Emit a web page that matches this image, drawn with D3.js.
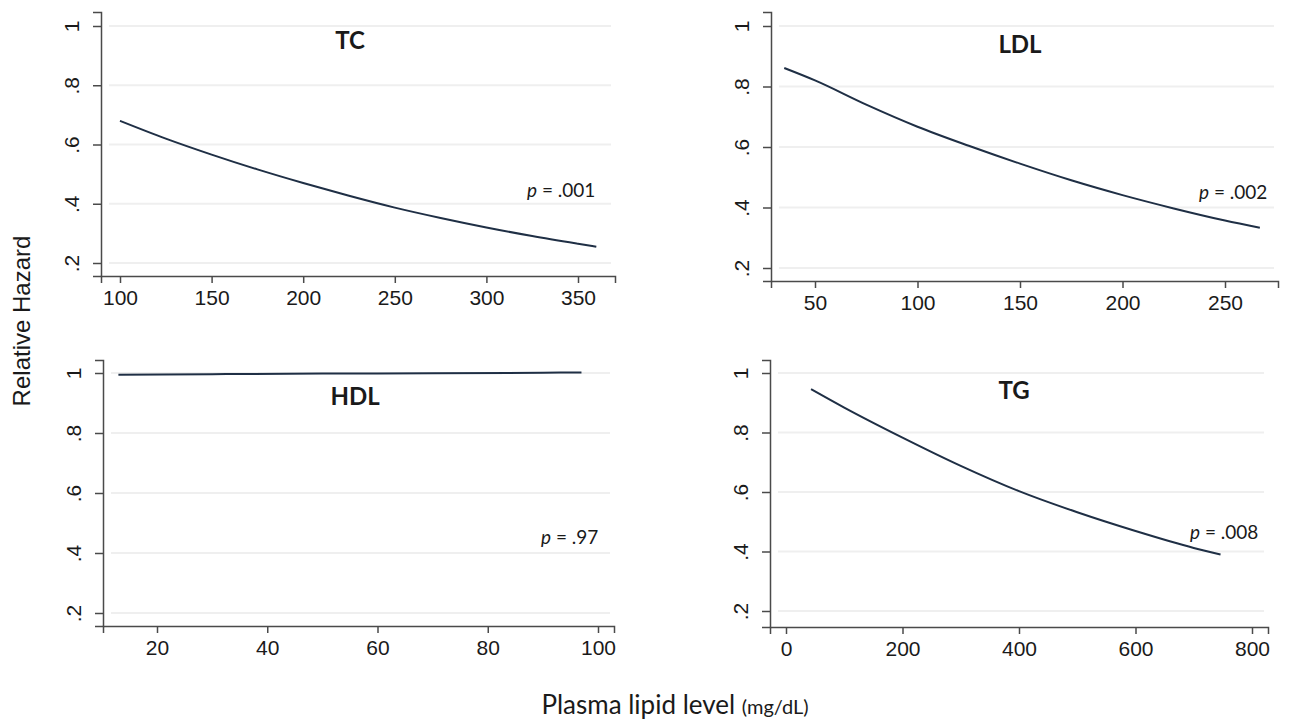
<!DOCTYPE html>
<html>
<head>
<meta charset="utf-8">
<script src="https://cdn.jsdelivr.net/npm/d3@7"></script>
<style>
  body { margin: 0; background: #fff; }
  svg text { fill: #1a1a1a; }
</style>
</head>
<body>
<div class="chart"></div>
<script>
// values (lipid level, relative hazard)
let tcX = [100, 125, 150, 175, 200, 225, 250, 275, 300, 325, 350, 360]
let tcY = [0.68, 0.62, 0.566, 0.516, 0.47, 0.427, 0.387, 0.352, 0.32, 0.291, 0.265, 0.255]
let ldlX = [35, 50, 75, 100, 125, 150, 175, 200, 225, 250, 267]
let ldlY = [0.861, 0.82, 0.74, 0.667, 0.604, 0.545, 0.49, 0.441, 0.397, 0.357, 0.333]
let hdlX = [13, 30, 50, 70, 90, 97]
let hdlY = [0.994, 0.996, 0.998, 0.999, 1.001, 1.002]
let tgX = [43, 100, 200, 300, 400, 500, 600, 700, 746]
let tgY = [0.946, 0.884, 0.783, 0.688, 0.603, 0.532, 0.469, 0.412, 0.39]

let names = ["TC", "LDL", "HDL", "TG"]
let pValues = ["= .001", "= .002", "= .97", "= .008"]
let xTicks = [[100, 150, 200, 250, 300, 350], [50, 100, 150, 200, 250], [20, 40, 60, 80, 100], [0, 200, 400, 600, 800]]
let yTicks = [0.2, 0.4, 0.6, 0.8, 1]
let yTickLabels = [".2", ".4", ".6", ".8", "1"]

let w = 1292
let h = 722

let svg = d3.select(".chart")
  .append("svg")
  .attr("width", w)
  .attr("height", h)

// panel frames: two x anchors (value -> px), y anchors for .2 and 1, axis extents
let panels = [
  { xs: tcX, ys: tcY, xa: [100, 350], xp: [120, 578], y02: 263, y1: 26, left: 101, right: 615, top: 12, bottom: 276,
    title: [350, 49], p: [527, 197] },
  { xs: ldlX, ys: ldlY, xa: [50, 250], xp: [815, 1225], y02: 268, y1: 26, left: 771, right: 1278, top: 12, bottom: 281,
    title: [1020, 53], p: [1199, 199] },
  { xs: hdlX, ys: hdlY, xa: [20, 100], xp: [157, 598], y02: 613, y1: 373, left: 103, right: 614, top: 360, bottom: 626,
    title: [355, 405], p: [541, 544] },
  { xs: tgX, ys: tgY, xa: [0, 800], xp: [786, 1252], y02: 611, y1: 373, left: 770, right: 1268, top: 360, bottom: 627,
    title: [1014, 399], p: [1190, 539] }
]

let tickFont = "Liberation Sans, Arial, sans-serif"

panels.forEach(function(p, i) {
  let x0 = d3.scaleLinear().domain(p.xa).range(p.xp)
  let x = x0.copy().domain([x0.invert(p.left), x0.invert(p.right)]).range([p.left, p.right])
  let y0 = d3.scaleLinear().domain([0.2, 1]).range([p.y02, p.y1])
  let y = y0.copy().domain([y0.invert(p.bottom), y0.invert(p.top)]).range([p.bottom, p.top])

  let g = svg.append("g")

  // faint horizontal grid
  g.selectAll("line.grid")
    .data(yTicks)
    .enter()
    .append("line")
    .attr("x1", p.left + 8)
    .attr("x2", p.right - 4)
    .attr("y1", d => y(d))
    .attr("y2", d => y(d))
    .attr("stroke", "#efefef")
    .attr("stroke-width", 2)

  // x axis
  let xAxis = g.append("g")
    .attr("transform", "translate(0," + p.bottom + ")")
    .call(d3.axisBottom(x).tickValues(xTicks[i]).tickSizeOuter(0).tickSize(7).tickPadding(7))
  xAxis.selectAll("text")
    .attr("font-family", tickFont)
    .attr("font-size", 21)
    .attr("fill", "#1a1a1a")

  // y axis, labels rotated like Stata
  let yAxis = g.append("g")
    .attr("transform", "translate(" + p.left + ",0)")
    .call(d3.axisLeft(y).tickValues(yTicks).tickFormat((d, k) => yTickLabels[k]).tickSizeOuter(0).tickSize(8))
  yAxis.selectAll(".tick text")
    .attr("font-family", tickFont)
    .attr("font-size", 21)
    .attr("fill", "#1a1a1a")
    .attr("text-anchor", "middle")
    .attr("x", 0)
    .attr("dy", 0)
    .attr("transform", "translate(-22,0) rotate(-90)")

  svg.selectAll(".domain, .tick line").attr("stroke", "#4a4a4a").attr("stroke-width", 1.5)

  // fitted curve
  let line = d3.line()
    .x(d => x(d[0]))
    .y(d => y(d[1]))
    .curve(d3.curveMonotoneX)
  g.append("path")
    .datum(p.xs.map((v, k) => [v, p.ys[k]]))
    .attr("d", line)
    .attr("fill", "none")
    .attr("stroke", "#1f2f45")
    .attr("stroke-width", 2)

  // panel title
  g.append("text")
    .attr("x", p.title[0])
    .attr("y", p.title[1])
    .attr("text-anchor", "middle")
    .attr("font-family", "Lato, Open Sans, sans-serif")
    .attr("font-weight", "bold")
    .attr("font-size", 24)
    .text(names[i])

  // p value
  let pt = g.append("text")
    .attr("x", p.p[0])
    .attr("y", p.p[1])
    .attr("font-family", "Lato, Open Sans, sans-serif")
    .attr("font-size", 19)
  pt.append("tspan").attr("font-style", "italic").text("p")
  pt.append("tspan").text(" " + pValues[i])
})

// shared axis titles
svg.append("text")
  .attr("transform", "translate(30,321) rotate(-90)")
  .attr("text-anchor", "middle")
  .attr("font-family", tickFont)
  .attr("font-size", 24)
  .text("Relative Hazard")

let xt = svg.append("text")
  .attr("x", 675)
  .attr("y", 714)
  .attr("text-anchor", "middle")
  .attr("font-family", "Lato, Open Sans, sans-serif")
  .attr("font-size", 26)
xt.append("tspan").text("Plasma lipid level ")
xt.append("tspan").attr("font-size", 20).text("(mg/dL)")
</script>
</body>
</html>
